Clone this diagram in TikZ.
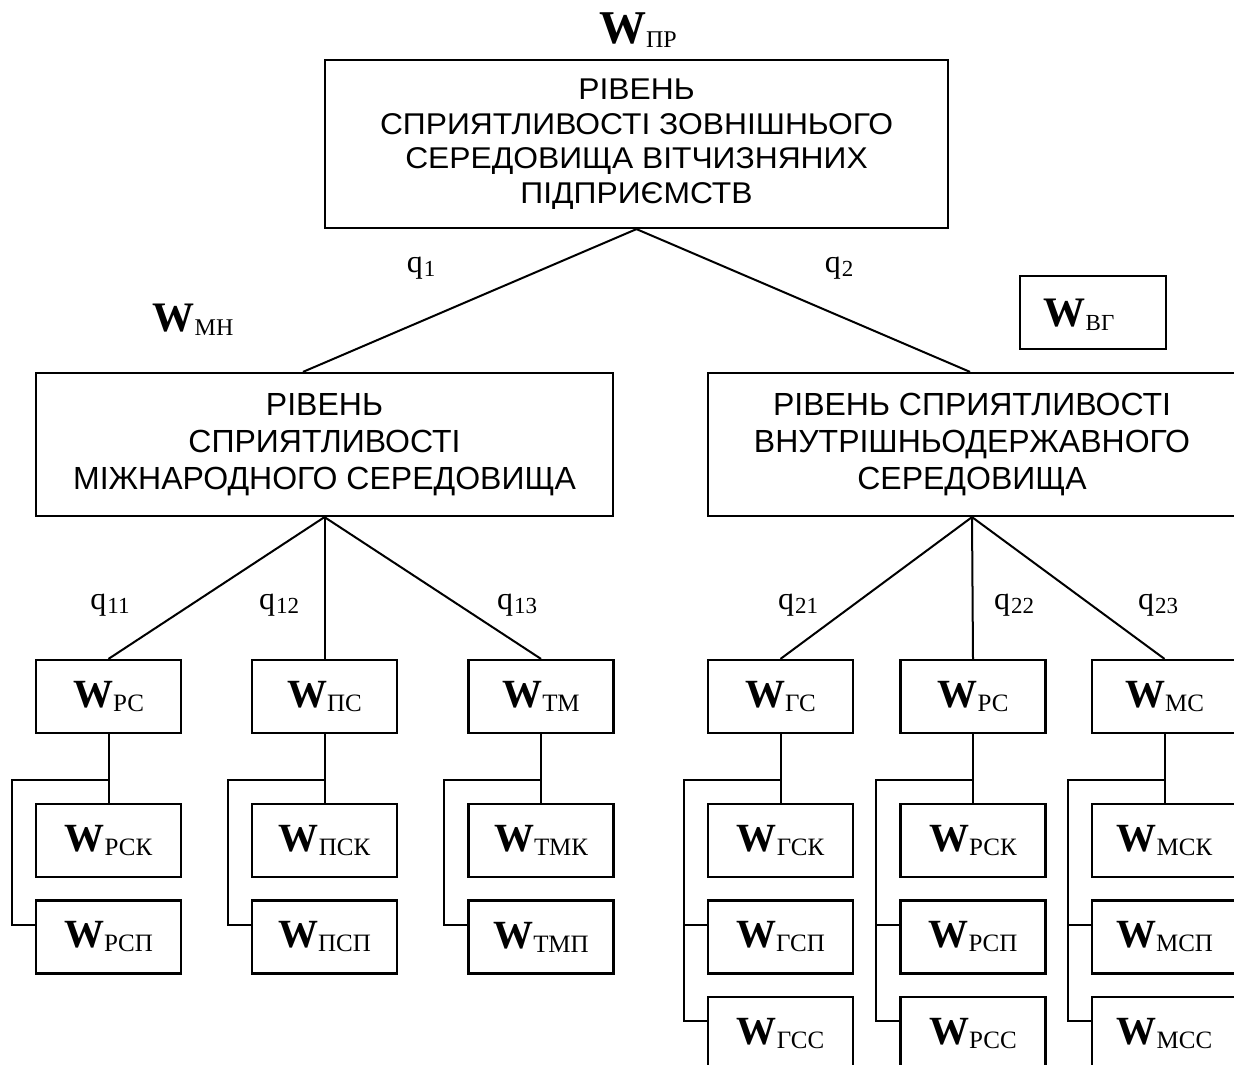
\documentclass[tikz,border=0pt]{standalone}
\usepackage{fontspec}
\setmainfont{Liberation Serif}
\newfontfamily\arialf{Liberation Sans}
\newfontfamily\arialwide[FakeStretch=1.06]{Liberation Sans}
\newcommand\Wlab[3]{{\fontsize{#1}{#1}\selectfont\bfseries W}\raisebox{-4pt}{\fontsize{#2}{#2}\selectfont #3}}
\newcommand\qlab[1]{{\fontsize{32}{32}\selectfont q}\kern1pt\raisebox{-4pt}{\fontsize{23}{23}\selectfont #1}}
\begin{document}
\begin{tikzpicture}[x=1pt,y=-1pt,
  box/.style={draw, rectangle, inner sep=0pt, line width=2.2pt},
  bigbox/.style={box, align=center, font=\arialf\fontsize{32}{37}\selectfont},
  smallbox/.style={box, minimum width=145pt, minimum height=73pt},
  lab/.style={inner sep=0pt},
  link/.style={line width=2pt}]
\useasboundingbox (0,0) rectangle (1234,1065);
\fill[white] (0,0) rectangle (1234,1065);
\coordinate (rowj) at (0,780);

% top
\node[lab] (wpr) at (638,30) {\Wlab{47}{24}{ПР}};
\node[box, minimum width=623pt, minimum height=168pt, align=center,
      font=\arialwide\fontsize{30}{34.5}\selectfont] (top) at (636.5,144)
  {РІВЕНЬ\\СПРИЯТЛИВОСТІ ЗОВНІШНЬОГО\\СЕРЕДОВИЩА ВІТЧИЗНЯНИХ\\ПІДПРИЄМСТВ};

% middle level
\node[bigbox, minimum width=577pt, minimum height=143pt] (lm) at (324.5,444.5)
  {РІВЕНЬ\\СПРИЯТЛИВОСТІ\\МІЖНАРОДНОГО СЕРЕДОВИЩА};
\node[bigbox, minimum width=528pt, minimum height=143pt] (rm) at (972,444.5)
  {РІВЕНЬ СПРИЯТЛИВОСТІ\\ВНУТРІШНЬОДЕРЖАВНОГО\\СЕРЕДОВИЩА};
\node[lab] (wmn) at (193,320) {\Wlab{42}{24}{МН}};
\node[box, minimum width=146pt, minimum height=73pt] (wvg) at (1093,312.5) {};
\node[lab] (wvgl) at (1079,315) {\Wlab{42}{23}{ВГ}};

\node[lab] (q1) at (421,268) {\qlab{1}};
\node[lab] (q2) at (839,268) {\qlab{2}};

\draw[link] (top.south) -- ([xshift=-21.5pt]lm.north);
\draw[link] (top.south) -- ([xshift=-2pt]rm.north);

% left branch
\foreach \n/\x/\s/\q/\qx in {a/108.5/РС/11/110, b/324.5/ПС/12/279, c/541/ТМ/13/517}{
  \node[smallbox] (\n0) at (\x,696.5) {\Wlab{40}{25}{\s}};
  \node[smallbox] (\n k) at (\x,840.5) {\Wlab{40}{25}{\s К}};
  \node[smallbox] (\n p) at (\x,937) {\Wlab{40}{25}{\s П}};
  \node[lab] (q\n) at (\qx,605) {\qlab{\q}};
  \draw[link] (lm.south) -- (\n0.north);
  \draw[link] (\n0.south) -- (\n k.north);
  \draw[link] (\n0.south |- rowj) -- ([xshift=-23pt]\n k.west |- rowj) |- ([yshift=12.5pt]\n p.west);
}

% right branch
\foreach \n/\x/\s/\q/\qx in {d/780.5/ГС/21/798, e/973/РС/22/1014, f/1164.5/МС/23/1158}{
  \node[smallbox] (\n0) at (\x,696.5) {\Wlab{40}{25}{\s}};
  \node[smallbox] (\n k) at (\x,840.5) {\Wlab{40}{25}{\s К}};
  \node[smallbox] (\n p) at (\x,937) {\Wlab{40}{25}{\s П}};
  \node[smallbox] (\n s) at (\x,1033.5) {\Wlab{40}{25}{\s С}};
  \node[lab] (q\n) at (\qx,605) {\qlab{\q}};
  \draw[link] (rm.south) -- (\n0.north);
  \draw[link] (\n0.south) -- (\n k.north);
  \draw[link] (\n0.south |- rowj) -- ([xshift=-23pt]\n k.west |- rowj) |- ([yshift=12.5pt]\n p.west);
  \draw[link] ([xshift=-23pt]\n k.west |- rowj) |- ([yshift=12.5pt]\n s.west);
}
\end{tikzpicture}
\end{document}
